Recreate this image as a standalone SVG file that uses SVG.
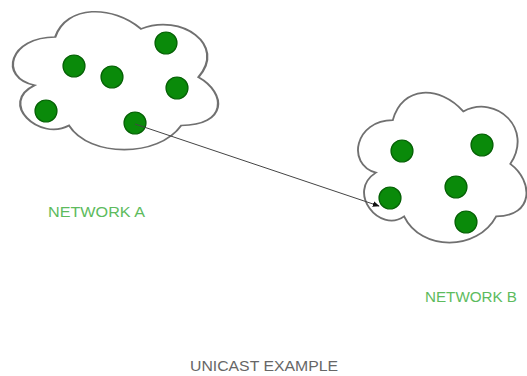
<svg xmlns="http://www.w3.org/2000/svg" width="527" height="376" viewBox="0 0 527 376">
  <defs>
    <path id="cloud" d="M25 25 C5 25 0 50 16 55 C0 66 18 90 31 80 C40 100 70 100 80 80 C100 80 100 60 87.5 50 C100 30 80 10 62.5 20 C50 5 30 5 25 25 Z"/>
    <marker id="arrow" viewBox="0 0 10 10" refX="9" refY="5" markerWidth="7" markerHeight="7" orient="auto" markerUnits="userSpaceOnUse">
      <path d="M0 1 L10 5 L0 9 Z" fill="#111"/>
    </marker>
  </defs>
  <style>
    .cloud { fill: #ffffff; stroke: #707070; stroke-width: 1; vector-effect: non-scaling-stroke; }
    .host { fill: #0a8a0a; stroke: #056005; stroke-width: 1.2; }
    .label { font-family: "Liberation Sans", Arial, sans-serif; font-size: 14px; fill: #5dbb5d; }
    .title { font-family: "Liberation Sans", Arial, sans-serif; font-size: 14px; fill: #666666; }
    .edge { stroke: #444444; stroke-width: 1; fill: none; }
  </style>
  <rect width="527" height="376" fill="#ffffff"/>

  <g id="networkA">
    <use href="#cloud" class="cloud" transform="translate(-2,-3.3) scale(2.29,1.61)"/>
    <circle class="host" cx="74" cy="66" r="11"/>
    <circle class="host" cx="112" cy="77" r="11"/>
    <circle class="host" cx="166" cy="43" r="11"/>
    <circle class="host" cx="177" cy="88" r="11"/>
    <circle class="host" cx="46" cy="111" r="11"/>
    <circle class="host" cx="135" cy="123" r="11"/>
  </g>

  <g id="networkB">
    <use href="#cloud" class="cloud" transform="translate(345.8,76.4) scale(1.88,1.75)"/>
    <circle class="host" cx="402" cy="151" r="11"/>
    <circle class="host" cx="482" cy="145" r="11"/>
    <circle class="host" cx="456" cy="187" r="11"/>
    <circle class="host" cx="390" cy="198" r="11"/>
    <circle class="host" cx="466" cy="222" r="11"/>
  </g>

  <g id="connectors">
    <line class="edge" x1="135" y1="124" x2="379" y2="206" marker-end="url(#arrow)"/>
  </g>

  <g id="labelA">
    <text class="label" x="48" y="217" textLength="97" lengthAdjust="spacingAndGlyphs">NETWORK A</text>
  </g>
  <g id="labelB">
    <text class="label" x="425" y="302" textLength="92" lengthAdjust="spacingAndGlyphs">NETWORK B</text>
  </g>
  <g id="title">
    <text class="title" x="190" y="371" textLength="148" lengthAdjust="spacingAndGlyphs">UNICAST EXAMPLE</text>
  </g>
</svg>
